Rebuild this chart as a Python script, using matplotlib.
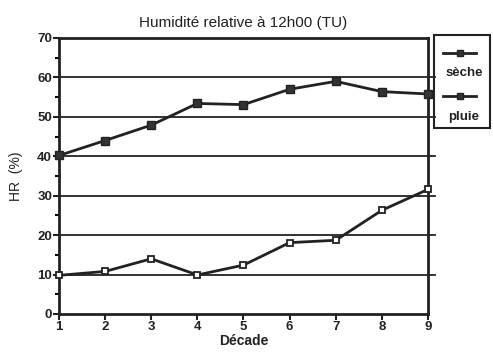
import matplotlib.pyplot as plt
from matplotlib.lines import Line2D
from matplotlib.patches import Rectangle

plt.rcParams['font.family'] = ['Liberation Sans', 'DejaVu Sans']

# relative humidity at 12h00 (TU) per decade
decades = [1, 2, 3, 4, 5, 6, 7, 8, 9]
hr_seche = [40.2, 44.0, 47.9, 53.4, 53.1, 57.0, 59.0, 56.4, 55.8]
hr_pluie = [9.8, 10.8, 14.0, 9.9, 12.4, 18.1, 18.7, 26.3, 31.6]
series_labels = ['sèche', 'pluie']

W, H = 493, 356
fig = plt.figure(figsize=(W / 100, H / 100), dpi=100)
ax = fig.add_axes([59 / W, 1 - 314 / H, (428 - 59) / W, (314 - 38) / H])

ax.set_xlim(1, 9)
ax.set_ylim(0, 70)

# horizontal rules, running a little past the right spine
for yv in range(10, 70, 10):
    ax.axhline(yv, xmin=0, xmax=1.018, color='#222222', lw=1.3, clip_on=False, zorder=1)

ax.plot(decades, hr_seche, color='#222222', lw=2.0, marker='s', ms=5.5,
        mfc='#333333', mec='#222222', clip_on=False, zorder=3)
ax.plot(decades, hr_pluie, color='#222222', lw=2.0, marker='s', ms=5,
        mfc='white', mec='#222222', mew=1.3, clip_on=False, zorder=3)

for side in ['left', 'right', 'top', 'bottom']:
    ax.spines[side].set_linewidth(2.0)
    ax.spines[side].set_color('#222222')

ax.set_xticks(decades)
ax.set_yticks(range(0, 71, 10))
ax.set_yticks(range(5, 70, 10), minor=True)
ax.tick_params(axis='both', which='major', direction='out', length=4, width=1.5,
               labelsize=9.5, pad=1, colors='#222222')
ax.tick_params(axis='y', which='minor', direction='out', length=3, width=1.5)
for lab in ax.get_xticklabels() + ax.get_yticklabels():
    lab.set_fontweight('bold')

ax.set_xlabel('Décade', fontsize=10, fontweight='bold', labelpad=1, color='#222222')
ax.set_ylabel('HR  (%)', fontsize=10, labelpad=10, color='#222222')
ax.set_title('Humidité relative à 12h00 (TU)', fontsize=11, pad=8, color='#222222')

# hand-drawn legend box on the right
fig.patches.append(Rectangle((434 / W, 1 - 128 / H), 56 / W, 93 / H,
                             transform=fig.transFigure, fill=False,
                             lw=1.5, ec='#222222'))
for ly, ty, lab in [(53, 73, series_labels[0]), (96, 117, series_labels[1])]:
    fig.lines.append(Line2D([443 / W, 460 / W, 476 / W], [1 - ly / H] * 3,
                            transform=fig.transFigure, color='#222222', lw=2.0,
                            marker='s', markevery=[1], ms=4, mfc='#333333'))
    fig.text(464 / W, 1 - ty / H, lab, ha='center', va='center', fontsize=9.5,
             fontweight='bold', color='#222222')

fig.savefig('out.png', dpi=100)
